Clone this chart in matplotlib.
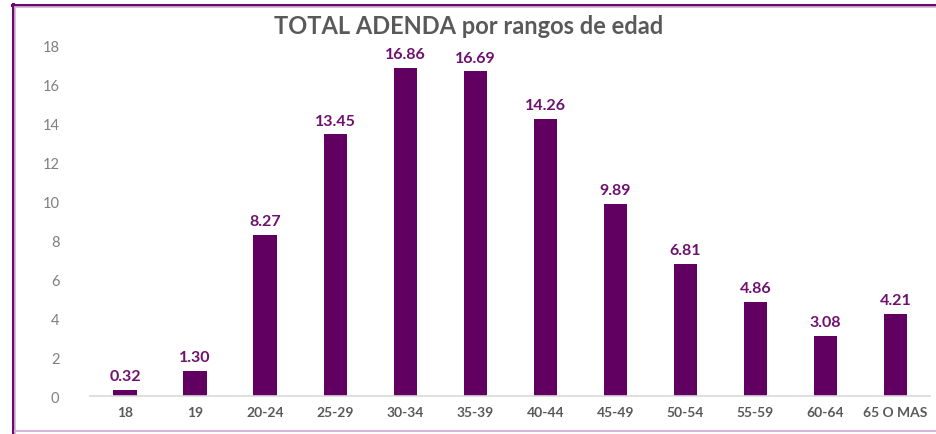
import matplotlib
matplotlib.use('Agg')

import matplotlib.pyplot as plt
from matplotlib.lines import Line2D

categories = ["18", "19", "20-24", "25-29", "30-34", "35-39", "40-44",
              "45-49", "50-54", "55-59", "60-64", "65 O MAS"]
values = [0.32, 1.30, 8.27, 13.45, 16.86, 16.69, 14.26, 9.89, 6.81, 4.86, 3.08, 4.21]
y_ticks = [0, 2, 4, 6, 8, 10, 12, 14, 16, 18]

bar_color = "#620062"
label_color = "#6E106E"

plt.rcParams['font.family'] = ['Lato', 'DejaVu Sans']

fig = plt.figure(figsize=(9.37, 4.35), dpi=100)
ax = fig.add_axes([0.096, 0.087, 0.897, 0.805])

x = range(len(categories))
ax.bar(x, values, width=0.33, color=bar_color, zorder=2)

for i, v in enumerate(values):
    ax.text(i, v + 0.35, f"{v:.2f}", ha="center", va="bottom",
            color=label_color, fontsize=11.5, fontweight="bold")

ax.set_xlim(-0.5, len(categories) - 0.5)
ax.set_ylim(0, 18)
ax.set_yticks(y_ticks)
ax.set_xticks(list(x))
ax.set_xticklabels(categories, color="#595959", fontsize=10, fontweight="bold")
ax.tick_params(axis="y", colors="#7f7f7f", labelsize=10.5, length=0, pad=22)
ax.tick_params(axis="x", length=0, pad=7)

for s in ["top", "right", "left"]:
    ax.spines[s].set_visible(False)
ax.spines["bottom"].set_color("#d9d9d9")
ax.spines["bottom"].set_linewidth(1.2)

fig.text(0.5, 0.94, "TOTAL ADENDA por rangos de edad", ha="center", va="center",
         color="#595959", fontsize=17, fontweight="bold")

# frame around the chart
fig.add_artist(Line2D([0.0135, 0.0135], [0.0, 0.988], color="#6a0a6a", lw=2.2))
fig.add_artist(Line2D([0.0155, 0.0155], [0.0, 0.985], color="#d8b4d8", lw=1.2))
fig.add_artist(Line2D([0.0125, 1.0], [0.987, 0.987], color="#6a0a6a", lw=2.2))
fig.add_artist(Line2D([0.0155, 1.0], [0.982, 0.982], color="#d8b4d8", lw=1.2))
fig.add_artist(Line2D([0.0155, 1.0], [0.007, 0.007], color="#d8b4d8", lw=1.5))

fig.savefig("out.png", dpi=100)
